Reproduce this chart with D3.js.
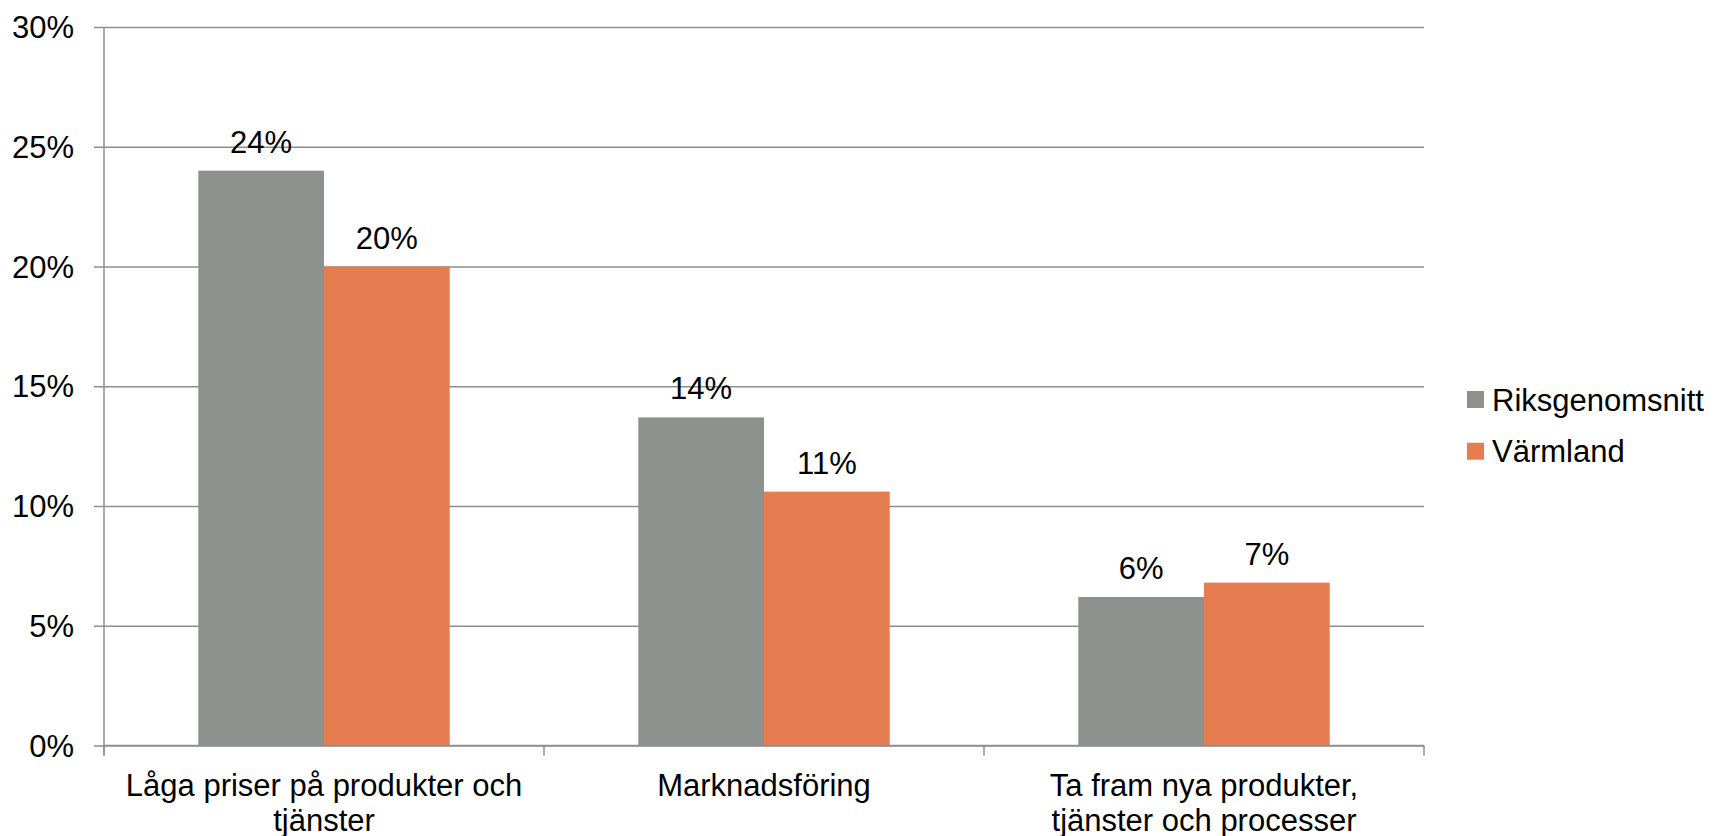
<!DOCTYPE html>
<html>
<head>
<meta charset="utf-8">
<script src="https://cdn.jsdelivr.net/npm/d3@7"></script>
<style>
  body { margin: 0; background: #fff; }
  text { font-family: "Liberation Sans", Arial, sans-serif; fill: #000; }
</style>
</head>
<body>
<script>
// data
const categories = ["Låga priser på produkter och tjänster", "Marknadsföring", "Ta fram nya produkter, tjänster och processer"];
const series = ["Riksgenomsnitt", "Värmland"];
const riksValues = [24.0, 13.7, 6.2];
const varmlandValues = [20.0, 10.6, 6.8];
const yTicks = [0, 5, 10, 15, 20, 25, 30];
const colors = ["#8C918E", "#E67D51"];

let marginLeft = 104,
  plotRight = 1424,
  plotTop = 27,
  plotBottom = 745.5,
  fontSize = 31;

const rows = categories.map((c, i) => ({ cat: c, values: [riksValues[i], varmlandValues[i]] }));

let svg = d3.select("body").append("svg")
  .attr("width", 1713)
  .attr("height", 836);

let y = d3.scaleLinear().domain([0, 30]).range([plotBottom, plotTop]);
let x0 = d3.scaleBand().domain(categories).range([marginLeft, plotRight]);
let x1 = d3.scaleBand().domain(series).range([0, x0.bandwidth()]).paddingInner(0).paddingOuter(0.75);

// gridlines + y axis
let yAxis = d3.axisLeft(y)
  .tickValues(yTicks)
  .tickSize(-(plotRight - marginLeft) - 10)
  .tickFormat(d => d + "%");

let gy = svg.append("g")
  .attr("transform", "translate(" + (marginLeft - 10) + ",0)")
  .call(yAxis);
gy.select(".domain").remove();
gy.selectAll(".tick line").attr("stroke", "#8E8E8E").attr("stroke-width", 1.3);
gy.selectAll(".tick text")
  .attr("x", -20)
  .attr("dy", "0.34em")
  .style("font-size", fontSize + "px");

// vertical axis line
svg.append("line")
  .attr("x1", marginLeft).attr("x2", marginLeft)
  .attr("y1", plotTop).attr("y2", plotBottom + 10)
  .attr("stroke", "#8E8E8E").attr("stroke-width", 1.5);

// bars
let groups = svg.append("g").selectAll("g")
  .data(rows)
  .enter().append("g")
  .attr("transform", d => "translate(" + x0(d.cat) + ",0)");

groups.selectAll("rect")
  .data(d => d.values.map((v, i) => ({ key: series[i], v: v, i: i })))
  .enter().append("rect")
  .attr("x", d => x1(d.key))
  .attr("y", d => y(d.v))
  .attr("width", x1.bandwidth())
  .attr("height", d => y(0) - y(d.v))
  .attr("fill", d => colors[d.i]);

groups.selectAll("text.val")
  .data(d => d.values.map((v, i) => ({ key: series[i], v: v, i: i })))
  .enter().append("text")
  .attr("class", "val")
  .attr("x", d => x1(d.key) + x1.bandwidth() / 2)
  .attr("y", d => y(d.v) - 18)
  .attr("text-anchor", "middle")
  .style("font-size", fontSize + "px")
  .text(d => Math.round(d.v) + "%");

// x axis
let xAxis = d3.axisBottom(x0).tickSize(0).tickFormat(d => d);
let gx = svg.append("g")
  .attr("transform", "translate(0," + plotBottom + ")")
  .call(xAxis);
gx.select(".domain").attr("stroke", "#8E8E8E").attr("stroke-width", 1.5)
  .attr("d", "M" + marginLeft + ",0H" + plotRight);
gx.selectAll(".tick text")
  .style("font-size", fontSize + "px")
  .attr("y", 50)
  .attr("dy", 0)
  .call(wrap, 415);

// category boundary ticks
svg.append("g").selectAll("line")
  .data(categories.map(c => x0(c)).concat([plotRight]))
  .enter().append("line")
  .attr("x1", d => d).attr("x2", d => d)
  .attr("y1", plotBottom).attr("y2", plotBottom + 10)
  .attr("stroke", "#8E8E8E").attr("stroke-width", 1.5);

// legend
let legend = svg.append("g").attr("transform", "translate(1467,391)");
let items = legend.selectAll("g").data(series).enter().append("g")
  .attr("transform", (d, i) => "translate(0," + (i * 51.7) + ")");
items.append("rect").attr("width", 17).attr("height", 17).attr("fill", (d, i) => colors[i]);
items.append("text").attr("x", 25).attr("y", 19.5)
  .style("font-size", fontSize + "px").text(d => d);

function wrap(sel, width) {
  sel.each(function () {
    let text = d3.select(this);
    let words = text.text().split(/\s+/);
    let xPos = text.attr("x") || 0;
    let yPos = text.attr("y");
    text.text(null);
    let line = [];
    let lineNo = 0;
    let tspan = text.append("tspan").attr("x", xPos).attr("y", yPos);
    words.forEach(w => {
      line.push(w);
      tspan.text(line.join(" "));
      if (tspan.node().getComputedTextLength() > width && line.length > 1) {
        line.pop();
        tspan.text(line.join(" "));
        line = [w];
        lineNo++;
        tspan = text.append("tspan").attr("x", xPos)
          .attr("y", +yPos + lineNo * 35.7).text(w);
      }
    });
  });
}
</script>
</body>
</html>
